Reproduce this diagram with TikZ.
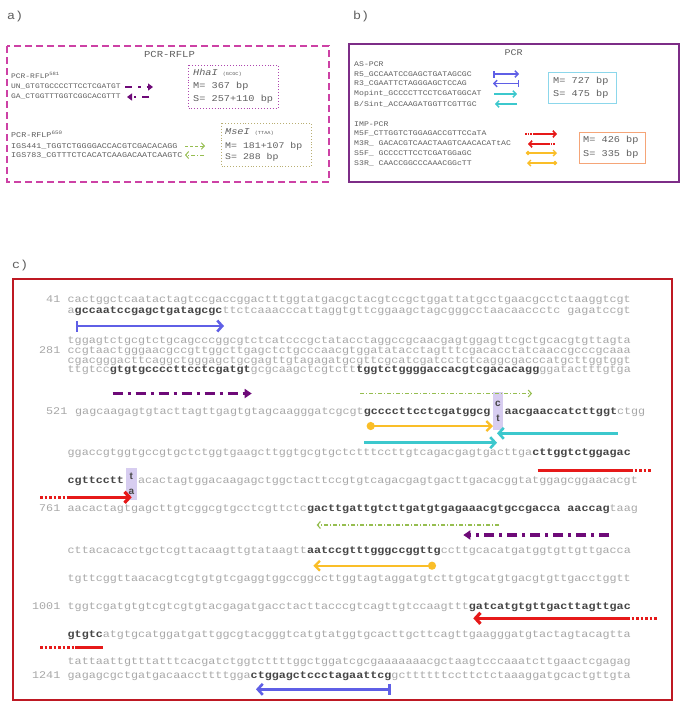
\documentclass[tikz,border=0pt]{standalone}
\usepackage{fontspec}
\usepackage{tikz}
\usetikzlibrary{arrows.meta}
\newfontfamily\seqfont[FakeStretch=1.15]{Liberation Mono}
\newfontfamily\snpfont{Liberation Sans}
\newcommand\fsz[1]{\fontsize{#1}{#1}\selectfont}
\newcommand\bsq[1]{{\bfseries\color{seqdark}#1}}
\definecolor{seqgray}{RGB}{168,168,168}
\definecolor{seqdark}{RGB}{70,70,70}
\definecolor{txtgray}{RGB}{95,95,95}
\definecolor{rflpmag}{RGB}{205,65,165}
\definecolor{unpurple}{RGB}{110,10,120}
\definecolor{hhamag}{RGB}{175,70,175}
\definecolor{mseolive}{RGB}{185,175,115}
\definecolor{igsgreen}{RGB}{150,190,80}
\definecolor{pcrpurple}{RGB}{125,45,135}
\definecolor{rblue}{RGB}{95,95,230}
\definecolor{scyan}{RGB}{60,200,205}
\definecolor{cybox}{RGB}{140,215,235}
\definecolor{mred}{RGB}{230,25,25}
\definecolor{sorange}{RGB}{250,190,40}
\definecolor{orbox}{RGB}{245,165,120}
\definecolor{cframe}{RGB}{190,25,35}
\definecolor{snpfill}{RGB}{215,205,240}
\begin{document}
\begin{tikzpicture}[x=1pt,y=-1pt,
    seqtxt/.style={anchor=mid west,inner sep=0pt,text=seqgray,font=\seqfont\fsz{10.2}},
    seqnum/.style={anchor=mid east,inner sep=0pt,text=seqgray,font=\seqfont\fsz{10.2}},
    snpbox/.style={fill=snpfill,inner sep=0pt,minimum width=10.6pt,align=center,text=seqdark,font=\snpfont\bfseries\fontsize{10}{15}\selectfont},
    lgtxt/.style={anchor=mid west,inner sep=0pt,text=txtgray,font=\seqfont\fsz{7.1}},
    bptxt/.style={anchor=mid west,inner sep=0pt,text=txtgray,font=\seqfont\fsz{8.9}},
    hdtxt/.style={inner sep=0pt,text=txtgray,font=\seqfont\fsz{9.2}},
    panlbl/.style={anchor=mid west,inner sep=0pt,text=txtgray,font=\seqfont\fsz{11.6}},
    barb/.style={-{Straight Barb[length=5pt,width=11pt]}},
    smbarb/.style={-{Straight Barb[length=3pt,width=6.5pt]}},
    bluepr/.style={rblue,line width=2.6pt},
    cyanpr/.style={scyan,line width=2.6pt},
    redpr/.style={mred,line width=3.2pt},
    reddot/.style={mred,line width=3.2pt,dash pattern=on 2.5pt off 2pt},
    orpr/.style={sorange,line width=2.3pt},
    unpr/.style={unpurple,line width=3.2pt,dash pattern=on 10pt off 5pt on 3pt off 5pt,-{Triangle[length=7pt,width=9pt]}},
    igspr/.style={igsgreen,line width=1.1pt,dash pattern=on 4pt off 2pt on 1pt off 2pt,-{Straight Barb[length=3pt,width=7pt]}}
  ]
\fill[white] (0,0) rectangle (685,713);
\useasboundingbox (0,0) rectangle (685,713);

% a) PCR-RFLP
\node[panlbl] (lblA) at (7,17) {a)};
\draw[rflpmag,line width=1.8pt,dash pattern=on 7pt off 4pt] (7,46) rectangle (329,182);
\node[hdtxt] (rflpHd) at (169.5,54) {PCR-RFLP};
\node[lgtxt,font=\seqfont\fsz{6.9}] (rflpA) at (11,76) {PCR-RFLP\textsuperscript{581}};
\node[lgtxt,font=\seqfont\fsz{6.9}] (unP) at (11,86.5) {UN\_GTGTGCCCCTTCCTCGATGT};
\node[lgtxt,font=\seqfont\fsz{6.9}] (gaP) at (11,96.5) {GA\_CTGGTTTGGTCGGCACGTTT};
\draw[unpr,line width=2.6pt,dash pattern=on 7pt off 6pt on 2.5pt off 6pt,-{Triangle[length=5pt,width=7pt]}] (125,87) -- (153,87);
\draw[unpr,line width=2.6pt,dash pattern=on 7pt off 6pt on 2.5pt off 6pt,-{Triangle[length=5pt,width=7pt]}] (149,97) -- (127,97);
\draw[hhamag,line width=0.9pt,dotted] (188,65) rectangle (278,108);
\node[bptxt] (hhaT) at (193,73) {\itshape HhaI\hspace{5pt}{\upshape\fsz{4.6}(GCGC)}};
\node[bptxt] (hhaM) at (193,86) {M= 367 bp};
\node[bptxt] (hhaS) at (193,99) {S= 257+110 bp};
\node[lgtxt,font=\seqfont\fsz{7.3}] (rflpB) at (11,135) {PCR-RFLP\textsuperscript{650}};
\node[lgtxt,font=\seqfont\fsz{7.3}] (igsF) at (11,146) {IGS441\_TGGTCTGGGGACCACGTCGACACAGG};
\node[lgtxt,font=\seqfont\fsz{7.3}] (igsR) at (11,155) {IGS783\_CGTTTCTCACATCAAGACAATCAAGTC};
\draw[igsgreen,line width=1pt,dash pattern=on 3pt off 2pt,smbarb] (185,146) -- (205,146);
\draw[igspr,line width=1pt] (204,155) -- (185,155);
\draw[mseolive,line width=0.9pt,dotted] (221,123) rectangle (311,166);
\node[bptxt] (mseT) at (225,132) {\itshape MseI\hspace{5pt}{\upshape\fsz{4.6}(TTAA)}};
\node[bptxt,font=\seqfont\fsz{8.6}] (mseM) at (225,146) {M= 181+107 bp};
\node[bptxt,font=\seqfont\fsz{8.6}] (mseS) at (225,157) {S= 288 bp};

% b) PCR
\node[panlbl] (lblB) at (353,17) {b)};
\draw[pcrpurple,line width=2pt] (349,44) rectangle (679,182);
\node[hdtxt,font=\seqfont\fsz{8.7}] (pcrHd) at (513.7,53) {PCR};
\node[lgtxt] (asHd) at (354,64) {AS-PCR};
\node[lgtxt] (r5P) at (354,74.3) {R5\_GCCAATCCGAGCTGATAGCGC};
\node[lgtxt] (r3P) at (354,83.7) {R3\_CGAATTCTAGGGAGCTCCAG};
\node[lgtxt] (moP) at (354,93.7) {Mopint\_GCCCCTTCCTCGATGGCAT};
\node[lgtxt] (bsP) at (354,104) {B/Sint\_ACCAAGATGGTTCGTTGC};
\node[lgtxt] (impHd) at (354,124) {IMP-PCR};
\node[lgtxt] (m5P) at (354,133.7) {M5F\_CTTGGTCTGGAGACCGTTCCaTA};
\node[lgtxt] (m3P) at (354,143.7) {M3R\_ GACACGTCAACTAAGTCAACACATtAC};
\node[lgtxt] (s5P) at (354,153.3) {S5F\_ GCCCCTTCCTCGATGGaGC};
\node[lgtxt] (s3P) at (354,163.3) {S3R\_ CAACCGGCCCAAACGGcTT};
\draw[rblue,line width=1.5pt,{Bar[width=7pt]}-{Straight Barb[length=3pt,width=6.5pt]}] (493,74) -- (519,74);
\draw[rblue,line width=1.5pt,{Bar[width=7pt]}-{Straight Barb[length=3pt,width=6.5pt]}] (519,83.5) -- (493,83.5);
\draw[scyan,line width=1.5pt,smbarb] (494,94) -- (517,94);
\draw[scyan,line width=1.5pt,smbarb] (517,104) -- (495,104);
\draw[mred,line width=1.6pt,dash pattern=on 1.5pt off 1.2pt] (525,134) -- (535,134);
\draw[mred,line width=1.6pt,smbarb] (535,134) -- (557,134);
\draw[mred,line width=1.6pt,smbarb] (548,144) -- (528,144);
\draw[mred,line width=1.6pt,dash pattern=on 1.5pt off 1.2pt] (548,144) -- (556,144);
\draw[sorange,line width=1.4pt,{Circle[length=4pt]}-{Straight Barb[length=3pt,width=6pt]}] (526,153) -- (557,153);
\draw[sorange,line width=1.4pt,{Circle[length=4pt]}-{Straight Barb[length=3pt,width=6pt]}] (557,163) -- (527,163);
\draw[cybox,line width=1pt] (548,72) rectangle (616,103);
\node[bptxt] (asM) at (553,81.7) {M= 727 bp};
\node[bptxt] (asS) at (553,94.3) {S= 475 bp};
\draw[orbox,line width=1pt] (579,132) rectangle (645,163);
\node[bptxt] (impM) at (583,140.7) {M= 426 bp};
\node[bptxt] (impS) at (583,154) {S= 335 bp};

% c) sequence with primers
\node[panlbl] (lblC) at (12,266) {c)};
\draw[cframe,line width=2pt] (13,279) rectangle (672,700);
\node[seqnum] (n41) at (60.5,300) {41};
\node[seqtxt] (s1) at (67.5,300) {cactggctcaatactagtccgaccggactttggtatgacgctacgtccgctggattatgcctgaacgcctctaaggtcgt};
\node[seqtxt] (s2) at (67.5,311.5) {a\bsq{gccaatccgagctgatagcgc}ttctcaaacccattaggtgttcggaagctagcgggcctaacaaccctc gagatccgt};
\node[seqtxt] (s3) at (67.5,341.7) {tggagtctgcgtctgcagcccggcgtctcatcccgctatacctaggccgcaacgagtggagttcgctgcacgtgttagta};
\node[seqnum] (n281) at (60.5,351.5) {281};
\node[seqtxt] (s4) at (67.5,351.5) {ccgtaactgggaacgccgttggcttgagctctgcccaacgtggatatacctagtttcgacacctatcaaccgcccgcaaa};
\node[seqtxt] (s5) at (67.5,361) {cgacgggacttcaggctgggagctgcgagttgtagagatgcgttcgcatcgatcctctcaggcgacccatgcttggtggt};
\node[seqtxt] (s6) at (67.5,370.5) {ttgtcc\bsq{gtgtgccccttcctcgatgt}gcgcaagctcgtctt\bsq{tggtctggggaccacgtcgacacagg}ggatactttgtga};
\node[seqnum] (n521) at (67.5,412.5) {521};
\node[seqtxt] (s7a) at (75,412.5) {gagcaagagtgtacttagttgagtgtagcaagggatcgcgt\bsq{gccccttcctcgatggcg}};
\node[snpbox,minimum height=38pt] (snp1) at (498,411) {c\\t};
\node[seqtxt] (s7b) at (504.3,412.5) {\bsq{aacgaaccatcttggt}ctgg};
\node[seqtxt] (s8) at (67.5,453) {ggaccgtggtgccgtgctctggtgaagcttggtgcgtgctctttccttgtcagacgagtgacttga\bsq{cttggtctggagac}};
\node[seqtxt] (s9a) at (67.5,481.7) {\bsq{cgttcctt}};
\node[snpbox,minimum height=32pt] (snp2) at (131.3,484) {t\\a};
\node[seqtxt] (s9b) at (137.9,481.7) {acactagtggacaagagctggctacttccgtgtcagacgagtgacttgacacggtatggagcggaacacgt};
\node[seqnum] (n761) at (60.5,509) {761};
\node[seqtxt] (s10) at (67.5,509) {aacactagtgagcttgtcggcgtgcctcgttctc\bsq{gacttgattgtcttgatgtgagaaacgtgccgacca aaccag}taag};
\node[seqtxt] (s11) at (67.5,551.7) {cttacacacctgctcgttacaagttgtataagtt\bsq{aatccgtttgggccggttg}ccttgcacatgatggtgttgttgacca};
\node[seqtxt] (s12) at (67.5,579) {tgttcggttaacacgtcgtgtgtcgaggtggccggccttggtagtaggatgtcttgtgcatgtgacgtgttgacctggtt};
\node[seqnum] (n1001) at (60.5,607) {1001};
\node[seqtxt] (s13) at (67.5,607) {tggtcgatgtgtcgtcgtgtacgagatgacctacttacccgtcagttgtccaagttt\bsq{gatcatgtgttgacttagttgac}};
\node[seqtxt] (s14) at (67.5,635) {\bsq{gtgtc}atgtgcatggatgattggcgtacgggtcatgtatggtgcacttgcttcagttgaagggatgtactagtacagtta};
\node[seqtxt] (s15) at (67.5,662.7) {tattaattgtttatttcacgatctggtcttttggctggatcgcgaaaaaaacgctaagtcccaaatcttgaactcgagag};
\node[seqnum] (n1241) at (60.5,676.7) {1241};
\node[seqtxt] (s16) at (67.5,676.7) {gagagcgctgatgacaaccttttgga\bsq{ctggagctccctagaattcg}gcttttttccttctctaaaggatgcactgttgta};
% primer arrows under the sequence
\draw[bluepr,{Bar[width=11pt]}-{Straight Barb[length=5pt,width=11pt]}] (75.7,326) -- (224,326);
\draw[unpr] (112.7,393.5) -- (251.7,393.5);
\draw[igspr] (360,393.5) -- (532,393.5);
\draw[orpr,{Circle[length=8pt]}-{Straight Barb[length=5pt,width=10pt]}] (366.7,426) -- (493,426);
\draw[cyanpr,barb] (617.7,433.3) -- (497,433.3);
\draw[cyanpr,barb] (364.3,442.7) -- (497,442.7);
\draw[redpr] (537.7,470.7) -- (630,470.7);
\draw[reddot] (630,470.7) -- (651,470.7);
\draw[reddot] (40,497.3) -- (66.7,497.3);
\draw[redpr,barb] (66.7,497.3) -- (131.7,497.3);
\draw[igspr] (499.3,525) -- (316.7,525);
\draw[unpr] (609.3,535) -- (463.3,535);
\draw[orpr,{Circle[length=8pt]}-{Straight Barb[length=5pt,width=10pt]}] (436,565.7) -- (313.3,565.7);
\draw[redpr,barb] (627,618.3) -- (473.3,618.3);
\draw[reddot] (627,618.3) -- (657,618.3);
\draw[reddot] (40,647.3) -- (75,647.3);
\draw[redpr] (75,647.3) -- (103.3,647.3);
\draw[bluepr,{Bar[width=11pt]}-{Straight Barb[length=5pt,width=11pt]}] (390.7,689.3) -- (256,689.3);
\end{tikzpicture}
\end{document}
